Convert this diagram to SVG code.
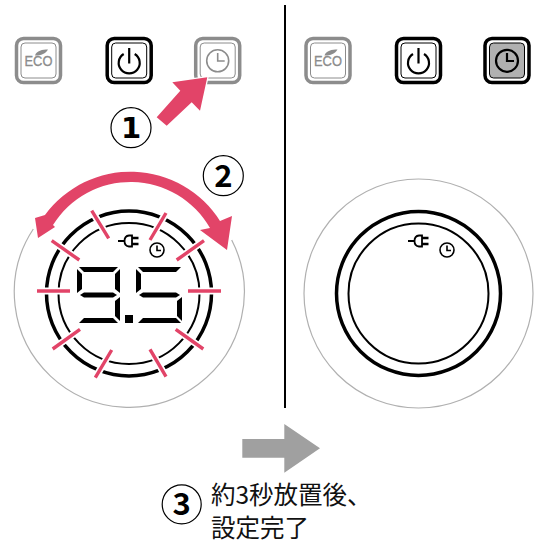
<svg xmlns="http://www.w3.org/2000/svg" width="534" height="542" viewBox="0 0 534 542">
<style>
.bo{fill:#fff;stroke-width:3.5}
.bi{fill:none;stroke-width:1}
.k{stroke:#000}.g{stroke:#8c8c8c}
.ic{fill:none;stroke-width:1.6;stroke-linecap:butt}
.ic2{fill:none;stroke-width:2.2;stroke:#000}
.num{font-family:"Noto Sans CJK JP","Noto Sans",sans-serif;font-weight:700;font-size:31px;text-anchor:middle;fill:#000}
.one{font-family:"DejaVu Sans",sans-serif;font-weight:700;font-size:29px;text-anchor:middle;fill:#000}
.cap{font-family:"Noto Sans CJK JP","Noto Sans",sans-serif;font-size:24.500px;fill:#111}
.nc{fill:#fff;stroke:#000;stroke-width:1.2}
.eco{font-family:"Liberation Sans",sans-serif;font-size:15.5px;fill:#8c8c8c;stroke:#8c8c8c;stroke-width:.3;text-anchor:middle}
.tk{stroke:#fff;stroke-width:7;fill:none}
.tp{stroke:#e24468;stroke-width:3.4;fill:none}
.seg{fill:#000}
</style>
<defs>
<g id="eco">
<rect class="bo g" x="-22" y="-22" width="44" height="44" rx="7"/>
<rect class="bi g" x="-17.5" y="-17.5" width="35" height="35" rx="4"/>
<text class="eco" x="0" y="5.500" textLength="28" lengthAdjust="spacingAndGlyphs">ECO</text>
<path d="M-3.500,-5 C-2,-10 4,-11 9.500,-11 C7,-7 3,-5 -3.500,-5Z" fill="#8c8c8c"/>
</g>
<g id="power">
<rect class="bo k" x="-22" y="-22" width="44" height="44" rx="7"/>
<rect class="bi k" x="-17.5" y="-17.5" width="35" height="35" rx="4"/>
<path class="ic2" d="M-5.500,-6.500 A10.500,10.500 0 1 0 5.500,-6.500 M0,-12.500 V3"/>
</g>
<g id="plug">
<path class="ic2" style="stroke-width:1.800" d="M0,6 H7 M14,0.500 H11 Q6.500,1 6.500,6 Q6.500,11 11,11.500 H14 Z"/>
<path class="ic2" style="stroke-width:2.400" d="M14,3 H20.500 M14,9 H20.500"/>
</g>
<g id="smallclock">
<circle class="ic k" r="7"/>
<path class="ic k" d="M0,-4.500 V0.500 H4"/>
</g>
</defs>

<g id="connectors">
<line id="divider" x1="285" y1="5" x2="285" y2="408" stroke="#000" stroke-width="2"/>
<path id="arrow-gray" d="M242.300,439 H284.300 V424 L320,448.300 L284.300,472.700 V457.700 H242.300Z" fill="#a0a0a0"/>
</g>

<g id="btn-eco-l" transform="translate(38.500,60.500)"><use href="#eco"/></g>
<g id="btn-power-l" transform="translate(129.200,60.500)"><use href="#power"/></g>
<g id="btn-clock-l" transform="translate(217.700,60.500)">
<rect class="bo g" x="-22" y="-22" width="44" height="44" rx="7"/>
<rect class="bi g" x="-17.5" y="-17.5" width="35" height="35" rx="4"/>
<circle class="ic g" cy="0.300" r="11"/>
<path class="ic g" d="M0,-7.500 V0.500 H7"/>
</g>
<g id="btn-eco-r" transform="translate(328,60.500)"><use href="#eco"/></g>
<g id="btn-power-r" transform="translate(418.500,60.500)"><use href="#power"/></g>
<g id="btn-clock-r" transform="translate(507,60.500)">
<rect class="bo k" x="-22" y="-22" width="44" height="44" rx="7"/>
<rect x="-17.500" y="-17.500" width="35" height="35" rx="4" fill="#b0b0b0" stroke="#000" stroke-width="1"/>
<circle class="ic2" cy="0.300" r="11"/>
<path class="ic2" d="M0,-7.500 V0.500 H7"/>
</g>

<g id="arrow-1">
<path d="M156.700,117.300 L180.300,90.700 L172.300,82.300 L207.300,77.300 L200,110.700 L191.700,102.300 L166.700,125.700Z" fill="#e24468" stroke="#fff" stroke-width="2.500" paint-order="stroke"/>
</g>
<g id="badge-1"><circle class="nc" cx="131" cy="127.700" r="20"/><text class="one" x="131" y="138">1</text></g>
<g id="badge-2"><circle class="nc" cx="223.300" cy="175.700" r="20"/><text class="num" x="223.300" y="186.500">2</text></g>

<g id="dial-left">
<path d="M33.300,229 A115,115 0 1 0 231.700,240" fill="none" stroke="#b0b0b0" stroke-width="1.200"/>
<circle cx="129" cy="293.500" r="82.500" fill="none" stroke="#000" stroke-width="3.500"/>
<circle cx="129" cy="293.500" r="70.500" fill="none" stroke="#000" stroke-width="2"/>
<g class="ticks">
<path class="tk" d="M91.700,210.700 L108.700,238.300 M166,213 L150,240 M51.700,240.700 L79.300,260 M204,240.700 L176.700,260 M37,291 H70 M188,291 H221 M52.700,349 L80,329.300 M203.300,349 L175.700,329.300 M95.300,377.700 L111.700,350 M166,376.700 L150,349.300"/>
<path class="tp" d="M91.700,210.700 L108.700,238.300 M166,213 L150,240 M51.700,240.700 L79.300,260 M204,240.700 L176.700,260 M37,291 H70 M188,291 H221 M52.700,349 L80,329.300 M203.300,349 L175.700,329.300 M95.300,377.700 L111.700,350 M166,376.700 L150,349.300"/>
</g>
<use href="#plug" x="118" y="235"/>
<use href="#smallclock" x="157" y="250"/>
<g id="digits" class="seg">
<path d="M79,267 H118 L113,272 H84Z"/>
<path d="M77,269 L82,274 V289 L77,293Z"/>
<path d="M120,269 L115,274 V289 L120,293Z"/>
<path d="M80,295 L84,292.500 H113 L117,295 L113,297.500 H84Z"/>
<path d="M120,297 L115,301 V316 L120,321Z"/>
<path d="M79,323 L84,318 H113 L118,323Z"/>
<rect x="125" y="315" width="8" height="8"/>
<path d="M138,267 H181 L176,272 H143Z"/>
<path d="M136,269 L141,274 V289 L136,293Z"/>
<path d="M139,295 L143,292.500 H176 L180,295 L176,297.500 H143Z"/>
<path d="M182,297 L177,301 V316 L182,321Z"/>
<path d="M138,323 L143,318 H176 L181,323Z"/>
</g>
</g>
<g id="arrow-2">
<path d="M38,238 L35,218 L45,215 A106,106 0 0 1 220,221 L232,216 L227,250 L200,230 L210,228 A91.500,91.500 0 0 0 53,225 L55,227Z" fill="#e24468"/>
</g>

<g id="dial-right">
<circle cx="418.500" cy="293.500" r="114.500" fill="none" stroke="#b0b0b0" stroke-width="1.200"/>
<circle cx="418.500" cy="293.500" r="82" fill="none" stroke="#000" stroke-width="3.500"/>
<circle cx="418.500" cy="293.500" r="70" fill="none" stroke="#000" stroke-width="2"/>
<use href="#plug" x="408" y="235"/>
<use href="#smallclock" x="447" y="250"/>
</g>

<g id="badge-3"><circle class="nc" cx="181.700" cy="504.300" r="19.500"/><text class="num" x="181.700" y="515">3</text></g>
<g id="caption">
<text class="cap" x="211" y="504">約3秒放置後、</text>
<text class="cap" x="211" y="537">設定完了</text>
</g>
</svg>
